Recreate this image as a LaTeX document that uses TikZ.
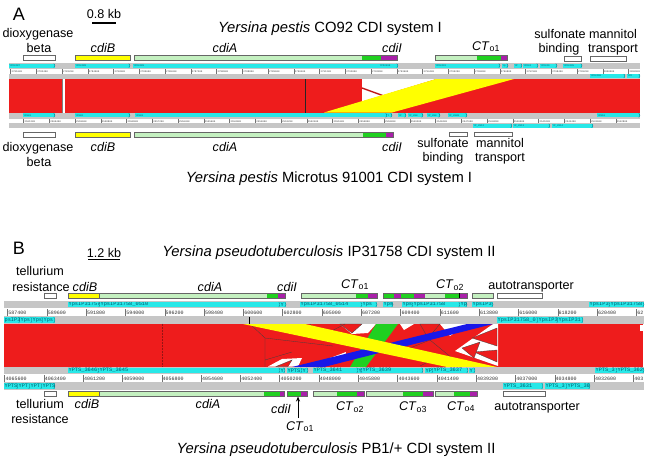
\documentclass[tikz,border=0pt]{standalone}
\usepackage{fontspec}
\setmainfont{Liberation Sans}
\newfontfamily\monof{Liberation Mono}
\usetikzlibrary{arrows.meta}
\definecolor{trk}{RGB}{198,198,198}
\definecolor{cy}{RGB}{40,232,232}
\definecolor{cyd}{RGB}{0,90,110}
\definecolor{rd}{RGB}{238,28,28}
\definecolor{rdd}{RGB}{150,20,20}
\definecolor{yl}{RGB}{255,255,0}
\definecolor{lg}{RGB}{196,240,192}
\definecolor{gn}{RGB}{32,208,32}
\definecolor{mg}{RGB}{168,32,168}
\definecolor{bl}{RGB}{24,24,232}
\newcount\ftc
\newcommand\ftbox[6]{%
  \global\advance\ftc by 1
  \begin{scope}
  \clip (#1,#3) rectangle (#2,#4);
  \fill[cy] (#1,#3) rectangle (#2,#4);
  \node[font=\monof\fontsize{#5}{#5}\selectfont, text=cyd, inner sep=0pt, anchor=west] (ft\the\ftc) at (#1+0.4,{(#3+#4)/2}) {#6};
  \end{scope}
  \draw[cyd, line width=0.25pt] (#2-1.2,#3) -- (#2,{(#3+#4)/2}) -- (#2-1.2,#4);
}
\begin{document}
\begin{tikzpicture}[x=1pt,y=-1pt,
  lab/.style={font=\fontsize{12.6}{14}\selectfont, inner sep=0pt, anchor=base},
  ttl/.style={font=\fontsize{14.8}{16}\selectfont, inner sep=0pt, anchor=base},
  panel/.style={font=\fontsize{18}{20}\selectfont, inner sep=0pt, anchor=base},
  gbar/.style={draw=black!60, line width=0.4pt},
  rulA/.style={font=\monof\fontsize{2.5}{2.5}\selectfont, inner sep=0pt, anchor=base west, text=black!75},
  rulB/.style={font=\monof\fontsize{5}{5}\selectfont, inner sep=0pt, anchor=base west, text=black!80},
  tick/.style={draw=black!55, line width=0.3pt},
  tri/.style={fill=rd, draw=black!75, line width=0.3pt}]
\useasboundingbox (0,0) rectangle (647,459);
\fill[white] (0,0) rectangle (647,459);

%%%%%%%%%%%%%%%% PANEL A %%%%%%%%%%%%%%%%
\node[panel] (lblA) at (19,20) {A};
\node[lab] (scaleA) at (104,18) {0.8 kb};
\draw[line width=1.6pt] (92,23) -- (116,23);
\node[ttl] (titA) at (330,32) {\textit{Yersina pestis} CO92 CDI system I};
\node[lab] (dA1) at (38,37) {dioxygenase};
\node[lab] (dA2) at (39,52) {beta};
\node[lab] (cdiBA) at (103,52) {\textit{cdiB}};
\node[lab] (cdiAA) at (225,52) {\textit{cdiA}};
\node[lab] (cdiIA) at (392,52) {\textit{cdiI}};
\node[lab] (ctA) at (486,50) {\textit{CT}\textsubscript{o1}};
\node[lab] (sulA1) at (560,38) {sulfonate};
\node[lab] (sulA2) at (559,52) {binding};
\node[lab] (manA1) at (613,38) {mannitol};
\node[lab] (manA2) at (613,52) {transport};

% gene bars top A
\draw[gbar, fill=white] (23,55) rectangle (55,60);
\draw[gbar, fill=yl] (75,55) rectangle (130,60);
\fill[lg] (134,55) rectangle (362,60); \fill[gn] (362,55) rectangle (381,60); \fill[mg] (381,55) rectangle (397,60);
\draw[gbar] (134,55) rectangle (397,60);
\fill[lg] (435,55) rectangle (477,60); \fill[gn] (477,55) rectangle (501,60); \fill[mg] (501,55) rectangle (507,60);
\draw[gbar] (435,55) rectangle (507,60);
\draw[gbar, fill=white] (564,56.5) rectangle (581,61);
\draw[gbar, fill=white] (590,56.5) rectangle (626,61);

% track top A
\fill[trk] (9,63) rectangle (640,78.5);
\ftbox{9}{55}{63.5}{67.5}{2.5}{YPO2487}
\ftbox{75}{130}{63.5}{67.5}{2.5}{YPO2488}
\ftbox{133}{398}{63.5}{67.5}{2.5}{YPO2489}
\node[font=\monof\fontsize{2.5}{2.5}\selectfont, text=cyd, inner sep=0pt] (ypoA) at (385,65.5) {YPO2490};
\ftbox{435}{500}{63.5}{67.5}{2.5}{YPO2491}
\ftbox{502}{508}{63.5}{67.5}{2.5}{Yp}
\ftbox{514}{522}{63.5}{67.5}{2.5}{YP}
\ftbox{523}{538}{63.5}{67.5}{2.5}{YPO24}
\ftbox{540}{557}{63.5}{67.5}{2.5}{YPO249}
\ftbox{563}{582}{63.5}{67.5}{2.5}{YPO2495}
\fill[white] (9,69) rectangle (640,73.5);
\foreach \x/\t in {10.5/2781600,36.25/2782400,62/2783200,87.75/2784000,113.5/2784800,139.25/2785600,165/2786400,190.75/2787200,216.5/2788000,242.25/2788800,268/2789600,293.75/2790400,319.5/2791200,345.25/2792000,371/2792800,396.75/2793600,422.5/2794400,448.25/2795200,474/2796000,499.75/2796800,525.5/2797600,551.25/2798400,577/2799200,602.75/2800000,628.5/2800800}
  {\draw[tick] (\x,69) -- (\x,73.5); \node[rulA] at (\x+1,72.5) {\t};}
\ftbox{590}{625}{74}{78}{2.5}{YPO2496}
\ftbox{627}{640}{74}{78}{2.5}{YPO}

% comparison A
\fill[rd] (9,79) rectangle (640,112.5);
\fill[white] (62.5,79) rectangle (64.5,112.5);
\draw[black!50, line width=0.3pt] (62.5,79) -- (62.5,112.5);
\fill[white] (362,79) -- (436,79) -- (362,101.5) -- cycle;
\draw[rd!80!black, line width=1.4pt] (362,88) -- (384,96);
\fill[yl] (324,112.5) -- (392,112.5) -- (514,79) -- (436,79) -- cycle;
\draw[black!85, line width=0.5pt] (305,79) -- (305,112.5);

% track bottom A
\fill[trk] (9,112.5) rectangle (640,128);
\ftbox{23}{55}{113.3}{117.3}{2.5}{YP001}
\ftbox{75}{130}{113.3}{117.3}{2.5}{YP002}
\ftbox{135}{387}{113.3}{117.3}{2.5}{YP003}
\ftbox{387}{392}{113.3}{117.3}{2.5}{Y}
\ftbox{398}{406}{113.3}{117.3}{2.5}{YP}
\ftbox{408}{423}{113.3}{117.3}{2.5}{YP\_200}
\ftbox{427}{440}{113.3}{117.3}{2.5}{YP\_200}
\ftbox{448}{467}{113.3}{117.3}{2.5}{YP\_2008}
\ftbox{597}{640}{113.3}{117.3}{2.5}{YP010}
\fill[white] (9,118.5) rectangle (640,123);
\foreach \x/\t in {23.5/2561200,49.25/2560400,75/2559600,100.75/2558800,126.5/2558000,152.25/2557200,178/2556400,203.75/2555600,229.5/2554800,255.25/2554000,281/2553200,306.75/2552400,332.5/2551600,358.25/2550800,384/2550000,409.75/2549200,435.5/2548400,461.25/2547600,487/2546800,512.75/2546000,538.5/2545200,564.25/2544400,590/2543600,615.75/2542800}
  {\draw[tick] (\x,118.5) -- (\x,123); \node[rulA] at (\x+1,122) {\t};}
\ftbox{473}{512}{123.8}{127.8}{2.5}{YP\_2012}
\ftbox{513}{550}{123.8}{127.8}{2.5}{YP\_2013}
\ftbox{552}{593}{123.8}{127.8}{2.5}{YP\_2014}

% gene bars bottom A
\draw[gbar, fill=white] (23,132) rectangle (55,137);
\draw[gbar, fill=yl] (75,132) rectangle (130,137);
\fill[lg] (134,132) rectangle (363,137); \fill[gn] (363,132) rectangle (386,137); \fill[mg] (386,132) rectangle (393,137);
\draw[gbar] (134,132) rectangle (393,137);
\draw[gbar, fill=white] (449,132) rectangle (467,136.5);
\draw[gbar, fill=white] (474,132) rectangle (512,136.5);

\node[lab] (dB1) at (38,151) {dioxygenase};
\node[lab] (dB2) at (39,166) {beta};
\node[lab] (cdiBAb) at (103,151) {\textit{cdiB}};
\node[lab] (cdiAAb) at (225,151) {\textit{cdiA}};
\node[lab] (cdiIAb) at (392,151) {\textit{cdiI}};
\node[lab] (sulB1) at (443,147) {sulfonate};
\node[lab] (sulB2) at (443,161) {binding};
\node[lab] (manB1) at (500,147) {mannitol};
\node[lab] (manB2) at (500,161) {transport};
\node[ttl] (titA2) at (329,182) {\textit{Yersina pestis} Microtus 91001 CDI system I};

%%%%%%%%%%%%%%%% PANEL B %%%%%%%%%%%%%%%%
\node[panel] (lblB) at (19,254) {B};
\node[lab] (scaleB) at (104,257) {1.2 kb};
\draw[line width=0.9pt] (88,259.5) -- (120,259.5);
\node[ttl] (titB) at (329,256) {\textit{Yersina pseudotuberculosis} IP31758 CDI system II};
\node[lab] (tB1) at (40,275) {tellurium};
\node[lab] (tB2) at (41,291) {resistance};
\node[lab] (cdiBB) at (85,291) {\textit{cdiB}};
\node[lab] (cdiAB) at (210,291) {\textit{cdiA}};
\node[lab] (cdiIB) at (287,291) {\textit{cdiI}};
\node[lab] (ct1B) at (355,288) {\textit{CT}\textsubscript{o1}};
\node[lab] (ct2B) at (450,288) {\textit{CT}\textsubscript{o2}};
\node[lab] (autB) at (531,289) {autotransporter};

% gene bars top B
\draw[gbar, fill=white] (44,293) rectangle (56,298);
\fill[yl] (68,293) rectangle (99,298); \fill[lg] (99,293) rectangle (267,298); \fill[gn] (267,293) rectangle (278,298); \fill[mg] (278,293) rectangle (285,298);
\draw[gbar] (68,293) rectangle (285,298); \draw[gbar] (99,293) -- (99,298);
\fill[lg] (301,293) rectangle (356,298); \fill[gn] (356,293) rectangle (368,298); \fill[mg] (368,293) rectangle (377,298);
\draw[gbar] (301,293) rectangle (377,298);
\fill[gn] (383,293) rectangle (394,298); \fill[mg] (394,293) rectangle (401,298); \fill[gn] (401,293) rectangle (414,298); \fill[mg] (414,293) rectangle (425,298);
\fill[lg] (425,293) rectangle (445,298); \fill[gn] (445,293) rectangle (459,298); \fill[mg] (459,293) rectangle (467,298);
\draw[gbar] (383,293) rectangle (467,298); \draw[black, line width=0.6pt] (459,293) -- (459,298);
\draw[gbar, fill=lg] (472,293) rectangle (493,298);
\draw[gbar, fill=white] (497,293) rectangle (542,298);

% track top B
\fill[trk] (4,301) rectangle (644,323.5);
\ftbox{68}{100}{302}{307}{5.3}{YpsIP31757}
\ftbox{100}{280}{302}{307}{5.3}{YpsIP31758\_0510}
\ftbox{280}{286}{302}{307}{5.3}{Y}
\ftbox{300}{362}{302}{307}{5.3}{YpsIP31758\_0514}
\ftbox{362}{377}{302}{307}{5.3}{Yps}
\ftbox{383}{393}{302}{307}{5.3}{Yps}
\ftbox{402}{413}{302}{307}{5.3}{Yps}
\ftbox{413}{460}{302}{307}{5.3}{YpsIP31758}
\ftbox{460}{467}{302}{307}{5.3}{Yp}
\ftbox{472}{493}{302}{307}{5.3}{YpsIP3}
\ftbox{589}{610}{302}{307}{5.3}{YpsIP3}
\ftbox{610}{644}{302}{307}{5.3}{YpsIP31758}
\fill[white] (4,308) rectangle (644,315.5);
\foreach \x/\t in {7.5/587400,46.8/589600,86.1/591800,125.4/594000,164.7/596200,204/598400,243.3/600600,282.6/602800,321.9/605000,361.2/607200,400.5/609400,439.8/611600,479.1/613800,518.4/616000,557.7/618200,597/620400,636.3/62}
  {\draw[tick] (\x,309) -- (\x,315.5); \node[rulB] at (\x+0.8,314) {\t};}
\ftbox{4}{20}{317}{323}{5.3}{psIP3}
\ftbox{20}{32}{317}{323}{5.3}{Yps}
\ftbox{32}{43}{317}{323}{5.3}{Yps}
\ftbox{43}{55}{317}{323}{5.3}{Yps}
\ftbox{497}{538}{317}{323}{5.3}{YpsIP31758\_0}
\ftbox{538}{558}{317}{323}{5.3}{YpsIP3}
\ftbox{558}{583}{317}{323}{5.3}{YpsIP31}
\draw[black, line width=0.4pt] (249,316.5) -- (249,324);

% comparison B
\fill[rd] (4,323.5) rectangle (643,367);
\draw[rdd, line width=1pt, dash pattern=on 2pt off 1pt] (162,323.5) -- (162,367);
% white zones
\fill[white] (340,324) -- (376,324) -- (368,333) -- (352,334) -- cycle;
\fill[white] (400,324) -- (414,324) -- (404,330) -- cycle;
\fill[white] (440,324) -- (467,324) -- (450,336) -- cycle;
\fill[white] (493,324) -- (498,324) -- (498,366) -- (455,351) -- cycle;
\fill[white] (268,366.5) -- (298,366.5) -- (302,358) -- (282,359) -- cycle;
\fill[white] (330,358) -- (346,352) -- (344,362) -- cycle;
% red triangles and outlines
\draw[tri] (340,324) -- (362,324) -- (352,333) -- cycle;
\draw[tri] (420,324) -- (440,324) -- (428,338) -- cycle;
\draw[tri] (497,328) -- (472,338) -- (497,346) -- cycle;
\draw[tri] (497,350) -- (474,352) -- (497,362) -- cycle;
\draw[tri] (462,348) -- (480,342) -- (474,358) -- cycle;
\draw[tri] (276,366.5) -- (292,360) -- (288,366.5) -- cycle;
\draw[black!75, line width=0.3pt] (250,324) -- (265,338) -- (265,367) (265,338) -- (333,346) (265,360) -- (292,352) (310,324) -- (322,336) -- (345,324) (322,336) -- (340,340) (400,352) -- (430,340) -- (452,358) (420,366) -- (440,356);
% coloured bands
\fill[gn] (350,367) -- (366,367) -- (398,324) -- (376,324) -- cycle;
\fill[bl] (292,367) -- (324,367) -- (493,324) -- (467,324) -- cycle;
\fill[yl] (243,324) -- (305,324) -- (497,367) -- (447,367) -- cycle;
\fill[white] (640,325) rectangle (643,331);

% track bottom B
\fill[trk] (4,367) rectangle (644,390);
\ftbox{68}{99}{367.5}{373}{5.3}{YPTS\_3646}
\ftbox{99}{280}{367.5}{373}{5.3}{YPTS\_3645}
\ftbox{280}{285}{367.5}{373}{5.3}{Y}
\ftbox{287}{302}{367.5}{373}{5.3}{YPTS}
\ftbox{302}{308}{367.5}{373}{5.3}{Y}
\ftbox{313}{358}{367.5}{373}{5.3}{YPTS\_3641}
\ftbox{358}{362}{367.5}{373}{5.3}{Y}
\ftbox{362}{423}{367.5}{373}{5.3}{YPTS\_3639}
\ftbox{425}{433}{367.5}{373}{5.3}{YP}
\ftbox{433}{468}{367.5}{373}{5.3}{YPTS\_3637}
\ftbox{469}{475}{367.5}{373}{5.3}{Y}
\ftbox{595}{617}{367.5}{373}{5.3}{YPTS\_3}
\ftbox{617}{644}{367.5}{373}{5.3}{YPTS\_362}
\fill[white] (4,374) rectangle (644,381.5);
\foreach \x/\t in {4.5/4065600,43.8/4063400,83.1/4061200,122.4/4059000,161.7/4056800,201/4054600,240.3/4052400,279.6/4050200,318.9/4048000,358.2/4045800,397.5/4043600,436.8/4041400,476.1/4039200,515.4/4037000,554.7/4034800,594/4032600,633.3/403}
  {\draw[tick] (\x,375) -- (\x,381.5); \node[rulB] at (\x+0.8,380) {\t};}
\ftbox{4}{18}{383}{389}{5.3}{YPTS}
\ftbox{18}{30}{383}{389}{5.3}{YPT}
\ftbox{30}{42}{383}{389}{5.3}{YPT}
\ftbox{42}{55}{383}{389}{5.3}{YPTS}
\ftbox{503}{543}{383}{389}{5.3}{YPTS\_3631}
\ftbox{545}{567}{383}{389}{5.3}{YPTS\_3}
\ftbox{567}{590}{383}{389}{5.3}{YPTS\_36}

% gene bars bottom B
\draw[gbar, fill=white] (44,391) rectangle (56,396);
\fill[yl] (68,391) rectangle (99,396); \fill[lg] (99,391) rectangle (264,396); \fill[gn] (264,391) rectangle (280,396); \fill[mg] (280,391) rectangle (284,396);
\draw[gbar] (68,391) rectangle (284,396); \draw[gbar] (99,391) -- (99,396);
\fill[gn] (287,391) rectangle (301,396); \fill[mg] (301,391) rectangle (307,396);
\draw[gbar] (287,391) rectangle (307,396);
\fill[lg] (313,391) rectangle (337,396); \fill[gn] (337,391) rectangle (357,396); \fill[mg] (357,391) rectangle (364,396);
\draw[gbar] (313,391) rectangle (364,396);
\fill[lg] (366,391) rectangle (403,396); \fill[gn] (403,391) rectangle (423,396); \fill[mg] (423,391) rectangle (433,396);
\draw[gbar] (366,391) rectangle (433,396);
\fill[lg] (435,391) rectangle (454,396); \fill[gn] (454,391) rectangle (470,396); \fill[mg] (470,391) rectangle (477,396);
\draw[gbar] (435,391) rectangle (477,396);
\draw[gbar, fill=white] (503,391) rectangle (545,396);

\node[lab] (tB3) at (40,408) {tellurium};
\node[lab] (tB4) at (40,423) {resistance};
\node[lab] (cdiBB2) at (87,408) {\textit{cdiB}};
\node[lab] (cdiAB2) at (208,408) {\textit{cdiA}};
\node[lab] (cdiIB2) at (281,413) {\textit{cdiI}};
\node[lab] (ct1B2) at (300,430) {\textit{CT}\textsubscript{o1}};
\node[lab] (ct2B2) at (350,410) {\textit{CT}\textsubscript{o2}};
\node[lab] (ct3B2) at (413,410) {\textit{CT}\textsubscript{o3}};
\node[lab] (ct4B2) at (461,410) {\textit{CT}\textsubscript{o4}};
\node[lab] (autB2) at (537,410) {autotransporter};
\coordinate (ctarrow) at (298,396.5);
\coordinate (ctfoot) at (298,418);
\draw[line width=0.8pt, -{Stealth[length=5pt,width=4pt]}] (ctfoot) -- (ctarrow);
\node[ttl] (titB2) at (336,453) {\textit{Yersina pseudotuberculosis} PB1/+ CDI system II};
\end{tikzpicture}
\end{document}
